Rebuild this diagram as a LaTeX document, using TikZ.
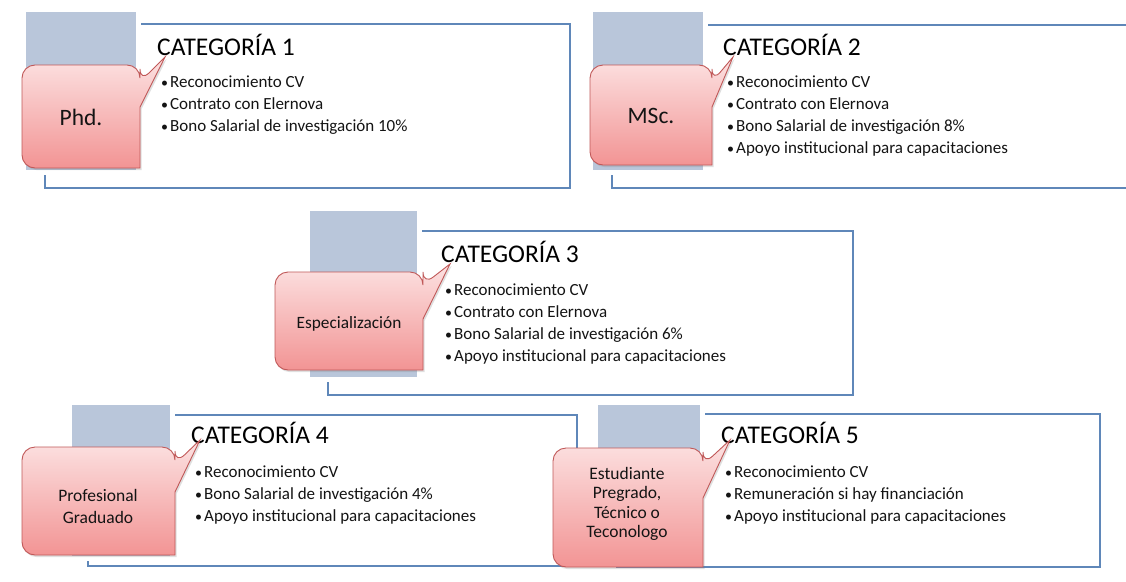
\documentclass[tikz,border=0pt]{standalone}
\usepackage{fontspec}
\setmainfont{Carlito}
\usetikzlibrary{shadows}
\definecolor{bluesq}{RGB}{185,198,218}
\definecolor{boxline}{RGB}{95,135,185}
\definecolor{calline}{RGB}{192,88,88}
\definecolor{caltop}{RGB}{252,226,226}
\definecolor{calbot}{RGB}{242,148,148}
\definecolor{txt}{RGB}{20,20,20}
\tikzset{
  catbox/.style={draw=boxline, line width=1.1pt},
  bluesquare/.style={fill=bluesq},
  pad/.style={fill=white},
  calloutshape/.style={draw=calline, line width=0.9pt, top color=caltop, bottom color=calbot,
     drop shadow={opacity=0.25, shadow xshift=1.5pt, shadow yshift=-2pt}},
  cattitle/.style={anchor=base west, inner sep=0pt, text=black, font=\fontsize{25.5}{29}\selectfont},
  bul/.style={anchor=base west, inner sep=0pt, text=txt, font=\fontsize{17}{20}\selectfont},
  biglab/.style={anchor=base, inner sep=0pt, text=txt, font=\fontsize{23.5}{26}\selectfont},
  smalllab/.style={inner sep=0pt, align=center, text=txt, font=\fontsize{17.5}{20}\selectfont},
}
% #1 L, #2 T, #3 R, #4 B, #5 a, #6 b, #7 tip x, #8 tip y
\newcommand\mycallout[8]{%
  \path[calloutshape] (#1,{(#2+#4)/2}) [rounded corners=13pt] -- (#1,#2) -- (#3,#2)
    -- (#3,#2+#5) [sharp corners] -- (#7,#8) -- (#3,#2+#6) -- (#3,#4)
    [rounded corners=13pt] -- (#1,#4) -- cycle;}
% #1 prefix, #2 x, #3 first baseline, #4 items
\newcommand\bulletlines[4]{%
  \foreach \t [count=\i] in {#4} {
    \node[bul] (#1-\i) at (#2,{#3+22*(\i-1)}) {{\fontsize{14}{16}\selectfont\textbullet}\hspace{2pt}\t};
  }}
% #1 L, #2 T, #3 R, #4 B : blue square with white margin
\newcommand\bluesq[4]{%
  \fill[pad] (#1-5,#2-5) rectangle (#3+5,#4+5);
  \fill[bluesquare] (#1,#2) rectangle (#3,#4);}
\begin{document}
\begin{tikzpicture}[x=1pt,y=-1pt]
\useasboundingbox[fill=white] (0,0) rectangle (1126,581);

% ---------- Categoria 1
\draw[catbox] (45,24) rectangle (570,188);
\bluesq{26}{12}{136}{170}
\node[cattitle] (t1) at (157,55) {CATEGORÍA 1};
\bulletlines{b1}{161}{87}{Reconocimiento CV, Contrato con Elernova, Bono Salarial de investigación 10\%}
\mycallout{22}{65}{140}{168}{17}{42}{165}{57}
\node[biglab] (l1) at (81,125) {Phd.};

% ---------- Categoria 2
\draw[catbox] (1126,25) -- (612,25) -- (612,188) -- (1126,188);
\bluesq{593}{12}{703}{170}
\node[cattitle] (t2) at (723,55) {CATEGORÍA 2};
\bulletlines{b2}{727}{87}{Reconocimiento CV, Contrato con Elernova, Bono Salarial de investigación 8\%, Apoyo institucional para capacitaciones}
\mycallout{590}{65}{712}{165}{17}{42}{733}{57}
\node[biglab] (l2) at (651,123) {MSc.};

% ---------- Categoria 3
\draw[catbox] (328,231) rectangle (853,395);
\bluesq{310}{211}{417}{377}
\node[cattitle] (t3) at (441,262) {CATEGORÍA 3};
\bulletlines{b3}{445}{295}{Reconocimiento CV, Contrato con Elernova, Bono Salarial de investigación 6\%, Apoyo institucional para capacitaciones}
\mycallout{275}{272}{423}{370}{13}{47}{450}{264}
\node[biglab, font=\fontsize{17.3}{20}\selectfont] (l3) at (349,328) {Especialización};

% ---------- Categoria 4
\draw[catbox] (88,415) rectangle (577,566);
\bluesq{72}{405}{170}{556}
\node[cattitle] (t4) at (191,443) {CATEGORÍA 4};
\bulletlines{b4}{195}{477}{Reconocimiento CV, Bono Salarial de investigación 4\%, Apoyo institucional para capacitaciones}
\mycallout{22}{447}{175}{555}{17}{45}{200}{440}
\node[smalllab, font=\fontsize{17.5}{22}\selectfont] (l4) at (98,506) {Profesional\\Graduado};

% ---------- Categoria 5
\draw[catbox] (617,414) rectangle (1100,567);
\bluesq{598}{405}{700}{556}
\node[cattitle] (t5) at (721,443) {CATEGORÍA 5};
\bulletlines{b5}{725}{477}{Reconocimiento CV, Remuneración si hay financiación, Apoyo institucional para capacitaciones}
\mycallout{553}{448}{703}{567}{17}{50}{730}{440}
\node[smalllab, font=\fontsize{17.5}{19.3}\selectfont] (l5) at (627,504) {Estudiante\\Pregrado,\\Técnico o\\Teconologo};
\end{tikzpicture}
\end{document}
